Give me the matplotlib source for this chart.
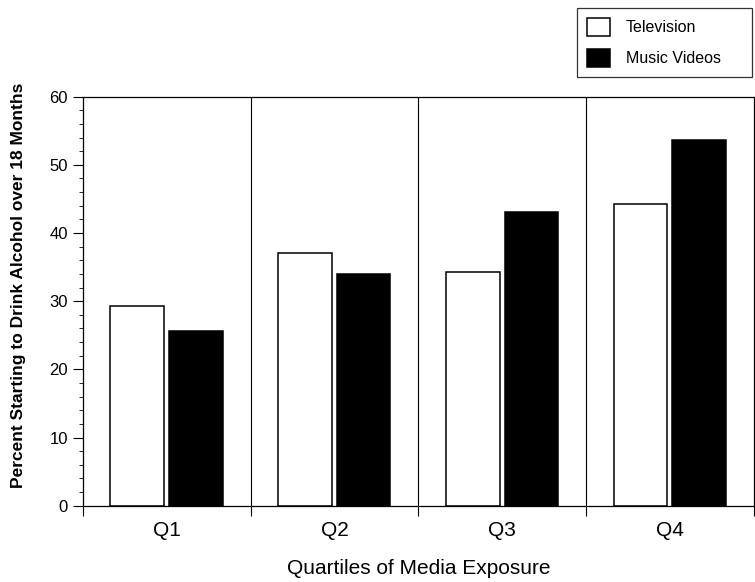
import numpy as np
import matplotlib
matplotlib.use("Agg")
import matplotlib.pyplot as plt
from matplotlib.ticker import MultipleLocator

plt.rcParams["font.family"] = ["Liberation Sans", "DejaVu Sans"]

quartiles = ["Q1", "Q2", "Q3", "Q4"]
television = [29.3, 37.0, 34.3, 44.2]
music_videos = [25.7, 34.0, 43.1, 53.7]

fig = plt.figure(figsize=(7.55, 5.82), dpi=100)
ax = fig.add_axes([0.1095, 0.131, 0.8892, 0.703])

x = np.arange(len(quartiles))
width = 0.32
ax.bar(x + 0.164, television, width, align="edge", color="white",
       edgecolor="black", linewidth=1.1, label="Television")
ax.bar(x + 0.514, music_videos, width, align="edge", color="black",
       edgecolor="black", linewidth=1.1, label="Music Videos")

# separators between the quartiles
for b in range(1, len(quartiles)):
    ax.axvline(b, color="black", linewidth=0.8)

ax.set_xlim(0, len(quartiles))
ax.set_ylim(0, 60)

ax.set_xticks(np.arange(len(quartiles) + 1))
ax.set_xticklabels([])
ax.set_xticks(x + 0.5, minor=True)
ax.set_xticklabels(quartiles, minor=True, fontsize=15)
ax.tick_params(axis="x", which="major", direction="out", length=7, width=0.8)
ax.tick_params(axis="x", which="minor", length=0, pad=11)

ax.set_yticks(np.arange(0, 61, 10))
ax.yaxis.set_minor_locator(MultipleLocator(2))
ax.tick_params(axis="y", which="major", direction="out", length=7, width=0.8, labelsize=12)
ax.tick_params(axis="y", which="minor", direction="out", length=3, width=0.6)

for s in ax.spines.values():
    s.set_linewidth(0.9)

ax.set_xlabel("Quartiles of Media Exposure", fontsize=15, labelpad=14)
ax.set_ylabel("Percent Starting to Drink Alcohol over 18 Months",
              fontsize=12.5, fontweight="bold")
ax.yaxis.set_label_coords(-0.0845, 0.54)

leg = fig.legend(loc="upper left", mode="expand",
                 bbox_to_anchor=(577 / 755, 1 - 74 / 582, 175 / 755, 66 / 582),
                 fontsize=11.5, frameon=True, fancybox=False, edgecolor="black",
                 handlelength=1.4, handleheight=1.3, handletextpad=1.0,
                 labelspacing=0.85, borderpad=0.65, borderaxespad=0)
leg.get_frame().set_linewidth(0.9)

fig.savefig("out.png", dpi=100)
